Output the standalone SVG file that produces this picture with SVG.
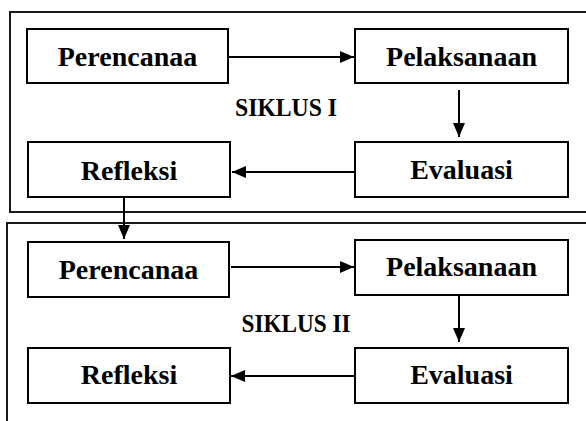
<svg xmlns="http://www.w3.org/2000/svg" width="586" height="421" viewBox="0 0 586 421">
<defs>
<style>
.frame{fill:none;stroke:#1a1a1a;stroke-width:2}
.box rect{fill:#fff;stroke:#000;stroke-width:2}
.box text,.lbl{font-family:"Liberation Serif","Times New Roman",serif;font-weight:bold;font-size:28px;fill:#000;text-anchor:middle}
.lbl{font-size:26px}
.conn line{stroke:#000;stroke-width:2}
</style>
<marker id="ah" viewBox="0 0 14 12" refX="14" refY="6" markerWidth="14" markerHeight="12" markerUnits="userSpaceOnUse" orient="auto">
<path d="M0,0 L14,6 L0,12 Z" fill="#000"/>
</marker>
</defs>
<rect width="586" height="421" fill="#fff"/>
<g id="frame1"><rect class="frame" x="10" y="12" width="600" height="200"/></g>
<g id="frame2"><rect class="frame" x="7" y="223" width="600" height="220"/></g>
<text class="lbl" x="286" y="116" textLength="102" lengthAdjust="spacingAndGlyphs">SIKLUS I</text>
<text class="lbl" x="296" y="332" textLength="109" lengthAdjust="spacingAndGlyphs">SIKLUS II</text>
<g id="perencanaa1" class="box"><rect x="27" y="29" width="201" height="54"/><text x="127.5" y="66">Perencanaa</text></g>
<g id="pelaksanaan1" class="box"><rect x="355" y="29" width="213" height="54"/><text x="461.5" y="66">Pelaksanaan</text></g>
<g id="evaluasi1" class="box"><rect x="355" y="142" width="213" height="55"/><text x="461.5" y="179">Evaluasi</text></g>
<g id="refleksi1" class="box"><rect x="28" y="142" width="202" height="55"/><text x="129" y="180">Refleksi</text></g>
<g id="perencanaa2" class="box"><rect x="28" y="242" width="201" height="55"/><text x="128.5" y="279">Perencanaa</text></g>
<g id="pelaksanaan2" class="box"><rect x="355" y="240" width="213" height="55"/><text x="461.5" y="276">Pelaksanaan</text></g>
<g id="evaluasi2" class="box"><rect x="355" y="348" width="213" height="55"/><text x="461.5" y="384">Evaluasi</text></g>
<g id="refleksi2" class="box"><rect x="28" y="348" width="202" height="55"/><text x="129" y="384">Refleksi</text></g>
<g id="connectors" class="conn">
<line x1="229" y1="57" x2="354" y2="57" marker-end="url(#ah)"/>
<line x1="459" y1="90" x2="459" y2="137" marker-end="url(#ah)"/>
<line x1="355" y1="172" x2="232" y2="172" marker-end="url(#ah)"/>
<line x1="124" y1="197" x2="124" y2="239" marker-end="url(#ah)"/>
<line x1="231" y1="267" x2="354" y2="267" marker-end="url(#ah)"/>
<line x1="459" y1="295" x2="459" y2="342" marker-end="url(#ah)"/>
<line x1="355" y1="376" x2="231" y2="376" marker-end="url(#ah)"/>
</g>
</svg>
